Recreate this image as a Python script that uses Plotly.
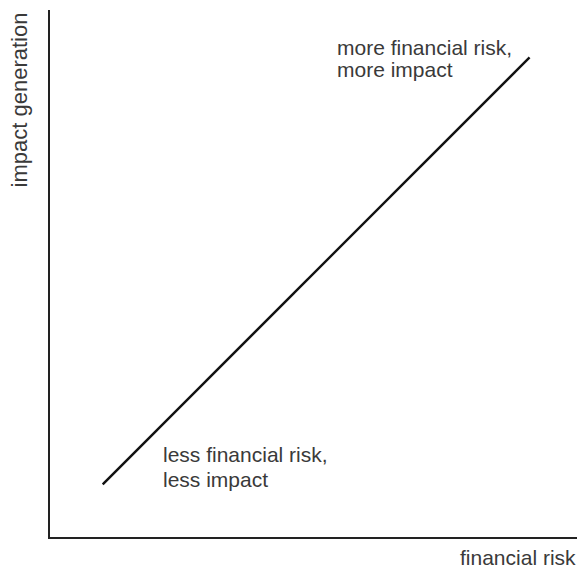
import plotly.graph_objects as go

# Conceptual data: financial risk vs impact generation
financial_risk = [1.0, 9.1]
impact_generation = [1.0, 9.1]

x_title = "financial risk"
y_title = "impact generation"

upper_label_lines = ["more financial risk,", "more impact"]
upper_label_x = 5.41
upper_label_y = [9.28, 8.87]

lower_label_lines = ["less financial risk,", "less impact"]
lower_label_x = 2.1
lower_label_y = [1.56, 1.09]

FONT = "Liberation Sans, Arial, Helvetica, sans-serif"
TEXT_COLOR = "#3a3a3a"

fig = go.Figure()
fig.add_trace(go.Scatter(
    x=financial_risk, y=impact_generation, mode="lines",
    line=dict(color="#111111", width=2.4), hoverinfo="skip", showlegend=False,
))

annotations = []
for txt, yy in zip(upper_label_lines, upper_label_y):
    annotations.append(dict(x=upper_label_x, y=yy, xref="x", yref="y", text=txt,
                            showarrow=False, xanchor="left", yanchor="middle",
                            font=dict(family=FONT, size=21, color=TEXT_COLOR)))
for txt, yy in zip(lower_label_lines, lower_label_y):
    annotations.append(dict(x=lower_label_x, y=yy, xref="x", yref="y", text=txt,
                            showarrow=False, xanchor="left", yanchor="middle",
                            font=dict(family=FONT, size=21, color=TEXT_COLOR)))
annotations.append(dict(x=1.002, y=-0.038, xref="paper", yref="paper", text=x_title,
                        showarrow=False, xanchor="right", yanchor="middle",
                        font=dict(family=FONT, size=21, color=TEXT_COLOR)))
annotations.append(dict(x=-0.057, y=1.0, xref="paper", yref="paper", text=y_title,
                        showarrow=False, xanchor="center", yanchor="top", textangle=-90,
                        font=dict(family=FONT, size=22, color=TEXT_COLOR)))

fig.update_layout(
    width=582, height=574,
    margin=dict(l=50, r=5, t=10, b=37),
    paper_bgcolor="white", plot_bgcolor="white",
    xaxis=dict(range=[0, 10], showline=True, linecolor="#222222", linewidth=2.4,
               showgrid=False, zeroline=False, showticklabels=False, ticks=""),
    yaxis=dict(range=[0, 10], showline=True, linecolor="#222222", linewidth=2.4,
               showgrid=False, zeroline=False, showticklabels=False, ticks=""),
    annotations=annotations,
)

fig.write_html("out.html", config={"displayModeBar": False},
               post_script="document.body.style.margin='0';document.body.style.overflow='hidden';")
